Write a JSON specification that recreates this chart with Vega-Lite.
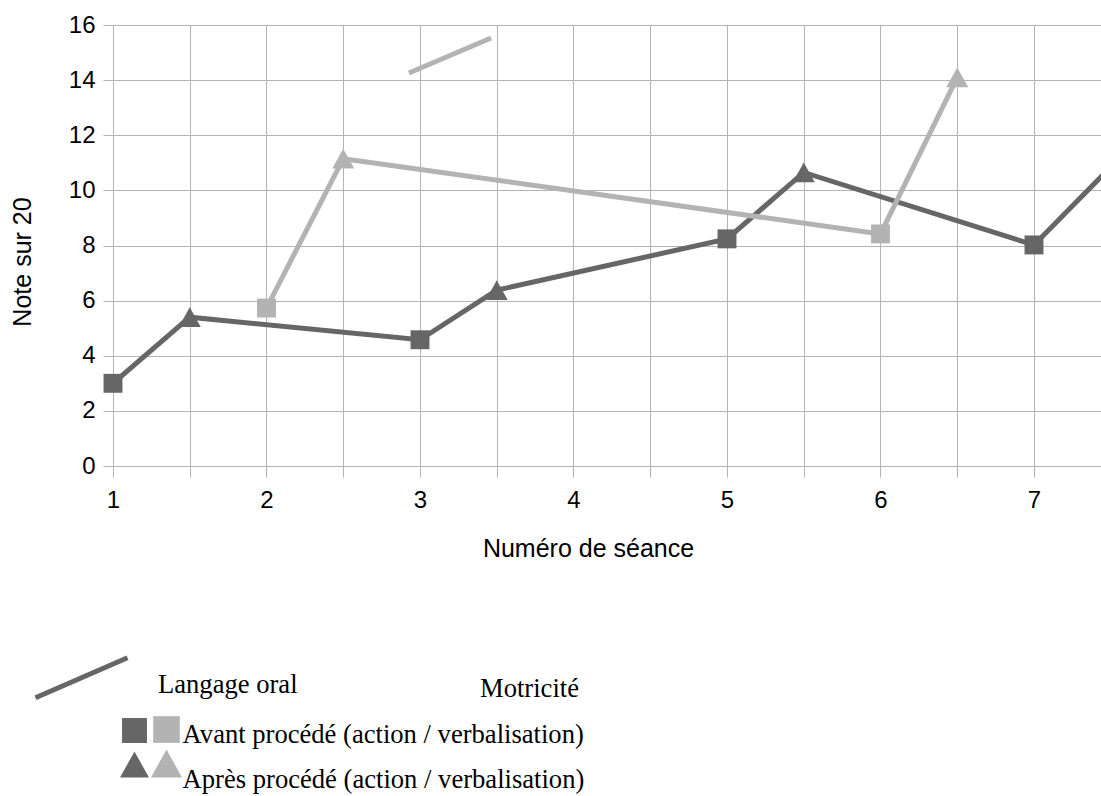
{
  "$schema": "https://vega.github.io/schema/vega-lite/v6.json",
  "width": 988,
  "height": 441,
  "autosize": {"type": "none"},
  "padding": {"left": 113, "top": 25, "right": 0, "bottom": 330},
  "background": "white",
  "config": {
    "view": {"stroke": null},
    "axis": {
      "gridColor": "#b3b3b3",
      "gridWidth": 1,
      "tickColor": "#b3b3b3",
      "tickWidth": 1,
      "domain": false,
      "labelFont": "Liberation Sans",
      "labelFontSize": 24,
      "labelColor": "#000000",
      "titleFont": "Liberation Sans",
      "titleFontSize": 25,
      "titleFontWeight": "normal",
      "titleColor": "#000000"
    },
    "legend": {"padding": 0}
  },
  "datasets": {
    "notes": [
      {"serie": "Langage oral", "seance": 1, "note": 3.0, "phase": "Avant procédé (action / verbalisation)", "procede": "Avant procédé (action / verbalisation)"},
      {"serie": "Langage oral", "seance": 1.5, "note": 5.4, "phase": "Après procédé (action / verbalisation)", "procede": "Après procédé (action / verbalisation)"},
      {"serie": "Langage oral", "seance": 3, "note": 4.58, "phase": "Avant procédé (action / verbalisation)", "procede": "Avant procédé (action / verbalisation)"},
      {"serie": "Langage oral", "seance": 3.5, "note": 6.38, "phase": "Après procédé (action / verbalisation)", "procede": "Après procédé (action / verbalisation)"},
      {"serie": "Langage oral", "seance": 5, "note": 8.24, "phase": "Avant procédé (action / verbalisation)", "procede": "Avant procédé (action / verbalisation)"},
      {"serie": "Langage oral", "seance": 5.5, "note": 10.65, "phase": "Après procédé (action / verbalisation)", "procede": "Après procédé (action / verbalisation)"},
      {"serie": "Langage oral", "seance": 7, "note": 8.02, "phase": "Avant procédé (action / verbalisation)", "procede": "Avant procédé (action / verbalisation)"},
      {"serie": "Langage oral", "seance": 7.5, "note": 10.85, "phase": "Après procédé (action / verbalisation)", "procede": "Après procédé (action / verbalisation)"},
      {"serie": "Motricité", "seance": 2, "note": 5.73, "phase": "Avant procédé (action / verbalisation)", "procede": "Avant procédé (action / verbalisation)"},
      {"serie": "Motricité", "seance": 2.5, "note": 11.15, "phase": "Après procédé (action / verbalisation)", "procede": "Après procédé (action / verbalisation)"},
      {"serie": "Motricité", "seance": 6, "note": 8.42, "phase": "Avant procédé (action / verbalisation)", "procede": "Avant procédé (action / verbalisation)"},
      {"serie": "Motricité", "seance": 6.5, "note": 14.1, "phase": "Après procédé (action / verbalisation)", "procede": "Après procédé (action / verbalisation)"}
    ],
    "trait": [
      {"seance": 2.928, "note": 14.26},
      {"seance": 3.463, "note": 15.53}
    ]
  },
  "layer": [
    {
      "data": {"name": "notes"},
      "mark": {"type": "line", "strokeWidth": 5, "clip": true},
      "encoding": {
        "x": {
          "field": "seance",
          "type": "quantitative",
          "scale": {"domain": [1, 7.4365], "nice": false, "zero": false},
          "axis": {
            "values": [1, 1.5, 2, 2.5, 3, 3.5, 4, 4.5, 5, 5.5, 6, 6.5, 7],
            "labelExpr": "datum.value % 1 == 0 ? format(datum.value, 'd') : ''",
            "tickSize": 11,
            "labelPadding": 11,
            "labelFlush": false,
            "labelOverlap": false,
            "title": "Numéro de séance",
            "titleX": 475,
            "titleY": 90,
            "titleBaseline": "alphabetic",
            "titleAlign": "center"
          }
        },
        "y": {
          "field": "note",
          "type": "quantitative",
          "scale": {"domain": [0, 16], "nice": false},
          "axis": {
            "values": [0, 2, 4, 6, 8, 10, 12, 14, 16],
            "tickSize": 10,
            "labelPadding": 8,
            "labelOverlap": false,
            "title": "Note sur 20",
            "titleX": -90.5,
            "titleY": 236.5,
            "titleAngle": 270,
            "titleBaseline": "middle",
            "titleAlign": "center"
          }
        },
        "color": {
          "field": "serie",
          "type": "nominal",
          "scale": {"domain": ["Langage oral", "Motricité"], "range": ["#666666", "#b3b3b3"]},
          "legend": {
            "title": null,
            "orient": "none",
            "direction": "horizontal",
            "legendX": -80,
            "legendY": 611,
            "symbolType": "M-1,0.283L1,-0.587",
            "symbolSize": 8464,
            "symbolStrokeWidth": 5,
            "labelFont": "Liberation Serif",
            "labelFontSize": 26.6,
            "labelColor": "#000000",
            "labelOffset": 28,
            "columnPadding": 57,
            "labelLimit": 400,
            "encode": {
              "symbols": {"update": {"opacity": {"signal": "datum.value === 'Motricité' ? 0 : 1"}}}
            }
          }
        },
        "order": {"field": "seance"}
      }
    },
    {
      "data": {"name": "trait"},
      "mark": {"type": "line", "strokeWidth": 5, "color": "#b3b3b3", "clip": true},
      "encoding": {
        "x": {"field": "seance", "type": "quantitative"},
        "y": {"field": "note", "type": "quantitative"}
      }
    },
    {
      "data": {"name": "notes"},
      "transform": [{"filter": "datum.serie === 'Langage oral'"}],
      "mark": {"type": "point", "filled": true, "opacity": 1, "size": 484, "color": "#666666", "clip": false},
      "encoding": {
        "x": {"field": "seance", "type": "quantitative"},
        "y": {"field": "note", "type": "quantitative"},
        "shape": {
          "field": "phase",
          "type": "nominal",
          "scale": {
            "domain": ["Avant procédé (action / verbalisation)", "Après procédé (action / verbalisation)"],
            "range": ["M-0.86,-0.86L0.86,-0.86L0.86,0.86L-0.86,0.86Z", "M-1,0.9L0,-0.9L1,0.9Z"]
          },
          "legend": {
            "title": null,
            "orient": "none",
            "legendX": 7,
            "legendY": 691,
            "symbolSize": 841,
            "symbolFillColor": "#666666",
            "symbolStrokeColor": "#666666",
            "symbolStrokeWidth": 0,
            "labelExpr": "''",
            "labelFontSize": 1,
            "labelOffset": 0,
            "rowPadding": 7
          }
        }
      }
    },
    {
      "data": {"name": "notes"},
      "transform": [{"filter": "datum.serie === 'Motricité'"}],
      "mark": {"type": "point", "filled": true, "opacity": 1, "color": "#b3b3b3", "clip": false},
      "encoding": {
        "x": {"field": "seance", "type": "quantitative"},
        "y": {"field": "note", "type": "quantitative"},
        "shape": {
          "field": "phase",
          "type": "nominal",
          "scale": {
            "domain": ["Avant procédé (action / verbalisation)", "Après procédé (action / verbalisation)"],
            "range": ["M-0.86,-0.86L0.86,-0.86L0.86,0.86L-0.86,0.86Z", "M-1,0.9L0,-0.9L1,0.9Z"]
          },
          "legend": {
            "title": null,
            "orient": "none",
            "legendX": 38,
            "legendY": 689,
            "symbolSize": 961,
            "symbolFillColor": "#b3b3b3",
            "symbolStrokeColor": "#b3b3b3",
            "symbolStrokeWidth": 0,
            "labelExpr": "''",
            "labelFontSize": 1,
            "labelOffset": 0,
            "rowPadding": 5
          }
        },
        "size": {
          "field": "procede",
          "type": "ordinal",
          "scale": {
            "domain": ["Avant procédé (action / verbalisation)", "Après procédé (action / verbalisation)"],
            "range": [484, 484]
          },
          "legend": {
            "title": null,
            "orient": "none",
            "legendX": 43,
            "legendY": 697,
            "symbolOpacity": 0,
            "symbolStrokeWidth": 0,
            "labelFont": "Liberation Serif",
            "labelFontSize": 26.6,
            "labelColor": "#000000",
            "labelOffset": 0,
            "labelLimit": 600,
            "rowPadding": 18
          }
        }
      }
    }
  ],
  "resolve": {"scale": {"shape": "independent"}, "legend": {"shape": "independent"}}
}
